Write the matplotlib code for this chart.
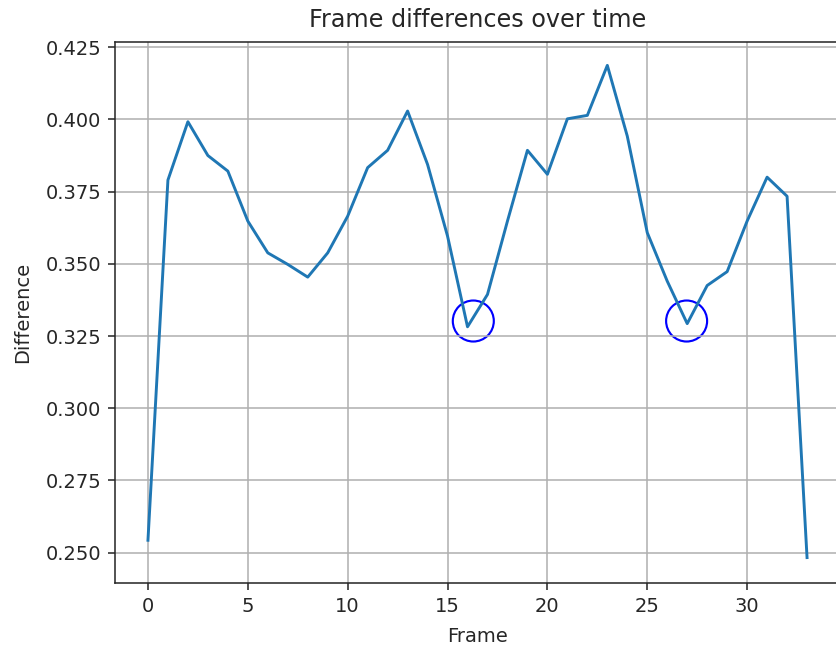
import matplotlib
matplotlib.use("Agg")
import matplotlib.pyplot as plt
from matplotlib.patches import Ellipse

frames = list(range(34))
diffs = [0.2543, 0.3790, 0.3992, 0.3875, 0.3821, 0.3648, 0.3538, 0.3498, 0.3454, 0.3538,
         0.3665, 0.3833, 0.3893, 0.4029, 0.3844, 0.3596, 0.3282, 0.3394, 0.3648, 0.3893,
         0.3810, 0.4002, 0.4014, 0.4187, 0.3942, 0.3608, 0.3440, 0.3293, 0.3425, 0.3473,
         0.3648, 0.3800, 0.3734, 0.2483]
circle_x = [16.29, 26.97]
circle_y = [0.3302, 0.3302]

s = 1.4  # reference looks like a default figure saved at ~140 dpi
txt = "#262626"

fig = plt.figure(figsize=(8.36, 6.45), dpi=100)
ax = fig.add_axes([115 / 836, 1 - 583 / 645, 725 / 836, 541 / 645])
ax.plot(frames, diffs, color="#1f77b4", linewidth=1.5 * s)
ax.set_xlim(-1.65, 34.65)
ax.set_ylim(0.2395, 0.4268)

# circles should look round on screen, so size them in pixels
for cx, cy in zip(circle_x, circle_y):
    w = 41 / (725 / (34.65 + 1.65))
    h = 41 / (541 / (0.4268 - 0.2395))
    ax.add_patch(Ellipse((cx, cy), w, h, fill=False, edgecolor="blue", linewidth=1.1 * s))

ax.set_yticks([0.250, 0.275, 0.300, 0.325, 0.350, 0.375, 0.400, 0.425])
ax.yaxis.set_major_formatter(matplotlib.ticker.FormatStrFormatter("%.3f"))
ax.tick_params(labelsize=10 * s, length=3.5 * s, width=0.8 * s, pad=3.5 * s,
               labelcolor=txt, color=txt)
for sp in ax.spines.values():
    sp.set_linewidth(0.8 * s)
    sp.set_color(txt)
ax.grid(True, linewidth=0.8 * s, color="#b0b0b0")
ax.set_xlabel("Frame", fontsize=10 * s, color=txt, labelpad=6 * s)
ax.set_ylabel("Difference", fontsize=10 * s, color=txt, labelpad=7 * s)
ax.set_title("Frame differences over time", fontsize=12.3 * s, color=txt, pad=7.5 * s)

fig.savefig("out.png", dpi=100)
